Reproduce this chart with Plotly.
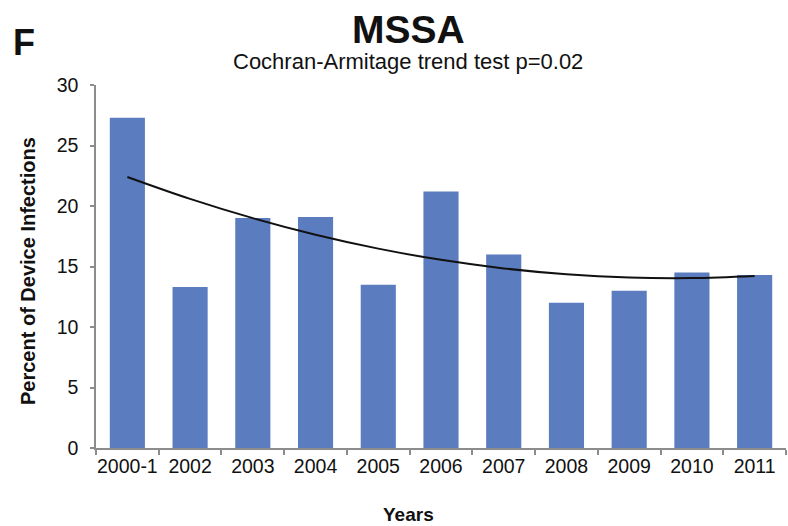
import numpy as np
import plotly.graph_objects as go

# Percent of device infections caused by MSSA, by year
years = ["2000-1", "2002", "2003", "2004", "2005", "2006",
         "2007", "2008", "2009", "2010", "2011"]
percent = [27.3, 13.3, 19.0, 19.1, 13.5, 21.2, 16.0, 12.0, 13.0, 14.5, 14.3]
y_ticks = [0, 5, 10, 15, 20, 25, 30]

# Second-order polynomial trend through the yearly values
idx = np.arange(1, len(years) + 1)
coef = np.polyfit(idx, percent, 2)
trend = np.polyval(coef, idx)

W, H = 788, 526
L, R, T, B = 96, 2, 85, 78
pw, ph = W - L - R, H - T - B


def px(x):
    return (x - L) / pw


def py(y):
    return (H - B - y) / ph


BAR = "#5B7CBE"
AXIS = "#8C8C8C"
FONT = "Liberation Sans, Arial, sans-serif"

fig = go.Figure()
fig.add_trace(go.Bar(x=years, y=percent, marker=dict(color=BAR, line=dict(width=0)),
                     showlegend=False))
fig.add_trace(go.Scatter(x=years, y=trend, mode="lines",
                         line=dict(color="#111111", width=2, shape="spline"),
                         showlegend=False))

fig.update_layout(
    width=W, height=H,
    margin=dict(l=L, r=R, t=T, b=B),
    paper_bgcolor="white", plot_bgcolor="white",
    bargap=0.44,
    font=dict(family=FONT, color="#111111", size=19),
    xaxis=dict(
        type="category", range=[-0.5, len(years) - 0.5],
        showline=True, linecolor=AXIS, linewidth=1.5,
        ticks="outside", tickson="boundaries", ticklen=5, tickcolor=AXIS, tickwidth=1.5,
        tickangle=0,
        tickfont=dict(size=19.5, family=FONT, color="#111111"),
        showgrid=False, zeroline=False,
    ),
    yaxis=dict(
        range=[0, 30], tickvals=y_ticks,
        showline=True, linecolor=AXIS, linewidth=1.5,
        ticks="outside", ticklen=4, tickcolor=AXIS, tickwidth=1.5,
        tickfont=dict(size=19.5, family=FONT, color="#111111"),
        ticklabelstandoff=8,
        showgrid=False, zeroline=False,
    ),
    annotations=[
        dict(text="<b>MSSA</b>", x=px(408), y=py(29), xref="paper", yref="paper",
             showarrow=False, xanchor="center", yanchor="middle",
             font=dict(size=39)),
        dict(text="Cochran-Armitage trend test p=0.02", x=px(408), y=py(61),
             xref="paper", yref="paper", showarrow=False,
             xanchor="center", yanchor="middle", font=dict(size=22)),
        dict(text="<b>F</b>", x=px(24), y=py(43), xref="paper", yref="paper",
             showarrow=False, xanchor="center", yanchor="middle", font=dict(size=36)),
        dict(text="<b>Years</b>", x=px(408), y=py(514), xref="paper", yref="paper",
             showarrow=False, xanchor="center", yanchor="middle", font=dict(size=19)),
        dict(text="<b>Percent of Device Infections</b>", x=px(28), y=py(271),
             xref="paper", yref="paper", showarrow=False, textangle=-90,
             xanchor="center", yanchor="middle", font=dict(size=20)),
    ],
)

fig.write_html("out.html")
